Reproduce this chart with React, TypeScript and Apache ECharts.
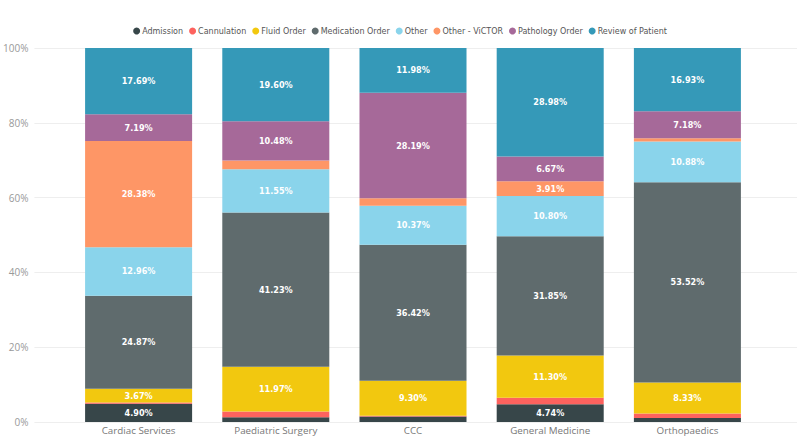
import React, { useEffect, useRef } from "react";
import * as echarts from "echarts";

const categories = ["Cardiac Services", "Paediatric Surgery", "CCC", "General Medicine", "Orthopaedics"];
const seriesNames = ["Admission", "Cannulation", "Fluid Order", "Medication Order", "Other", "Other - ViCTOR", "Pathology Order", "Review of Patient"];
const colors = ["#374649", "#FD625E", "#F2C80F", "#5F6B6D", "#8AD4EB", "#FE9666", "#A66999", "#3599B8"];

const admission = [4.9, 1.25, 1.45, 4.74, 1.1];
const cannulation = [0.34, 1.55, 0.25, 1.75, 1.15];
const fluidOrder = [3.67, 11.97, 9.3, 11.3, 8.33];
const medicationOrder = [24.87, 41.23, 36.42, 31.85, 53.52];
const other = [12.96, 11.55, 10.37, 10.8, 10.88];
const otherVictor = [28.38, 2.37, 2.04, 3.91, 0.91];
const pathologyOrder = [7.19, 10.48, 28.19, 6.67, 7.18];
const reviewOfPatient = [17.69, 19.6, 11.98, 28.98, 16.93];

const seriesData = [admission, cannulation, fluidOrder, medicationOrder, other, otherVictor, pathologyOrder, reviewOfPatient];
const yTicks = [0, 20, 40, 60, 80, 100];

export default function App() {
  const ref = useRef<HTMLDivElement>(null);
  useEffect(() => {
    if (!ref.current) return;
    const chart = echarts.init(ref.current, undefined, { renderer: "svg" });
    const font = "'Open Sans', 'Noto Sans', sans-serif";
    chart.setOption({
      animation: false,
      color: colors,
      legend: {
        top: 22,
        left: "center",
        icon: "circle",
        itemWidth: 7,
        itemHeight: 7,
        itemGap: 6,
        textStyle: { fontSize: 8, color: "#555", fontFamily: "'DejaVu Sans', sans-serif", padding: [0, 0, 0, -3] },
        data: seriesNames,
      },
      grid: [
        { left: 30, right: 3, top: 48, bottom: 15 },
        { left: 70, right: 44, top: 48, bottom: 15 },
      ],
      xAxis: [
        { type: "value", gridIndex: 0, show: false, min: 0, max: 1 },
        {
          type: "category",
          gridIndex: 1,
          data: categories,
          axisLine: { show: false },
          axisTick: { show: false },
          axisLabel: { fontSize: 9.8, color: "#777", margin: 3, fontFamily: font },
        },
      ],
      yAxis: [
        {
          type: "value",
          gridIndex: 0,
          min: yTicks[0],
          max: yTicks[yTicks.length - 1],
          interval: 20,
          axisLine: { show: false },
          axisTick: { show: false },
          axisLabel: { formatter: "{value}%", fontSize: 10, color: "#999", margin: 6, fontFamily: font },
          splitLine: { lineStyle: { color: "#eeeeee", width: 1 } },
        },
        { type: "value", gridIndex: 1, min: 0, max: 100, show: false, splitLine: { show: false } },
      ],
      series: seriesNames.map((name, i) => ({
        name,
        type: "bar",
        stack: "total",
        xAxisIndex: 1,
        yAxisIndex: 1,
        barWidth: "78%",
        data: seriesData[i],
        itemStyle: { color: colors[i] },
        label: {
          show: true,
          position: "inside",
          color: "#fff",
          fontSize: 9,
          fontWeight: "bold",
          fontFamily: "'DejaVu Sans Condensed', 'DejaVu Sans', sans-serif",
          formatter: (p: any) => (p.value >= 3.5 ? p.value.toFixed(2) + "%" : ""),
        },
      })),
    });
    return () => chart.dispose();
  }, []);
  return <div ref={ref} style={{ width: 800, height: 437, position: "absolute", left: 0, top: 0 }} />;
}
